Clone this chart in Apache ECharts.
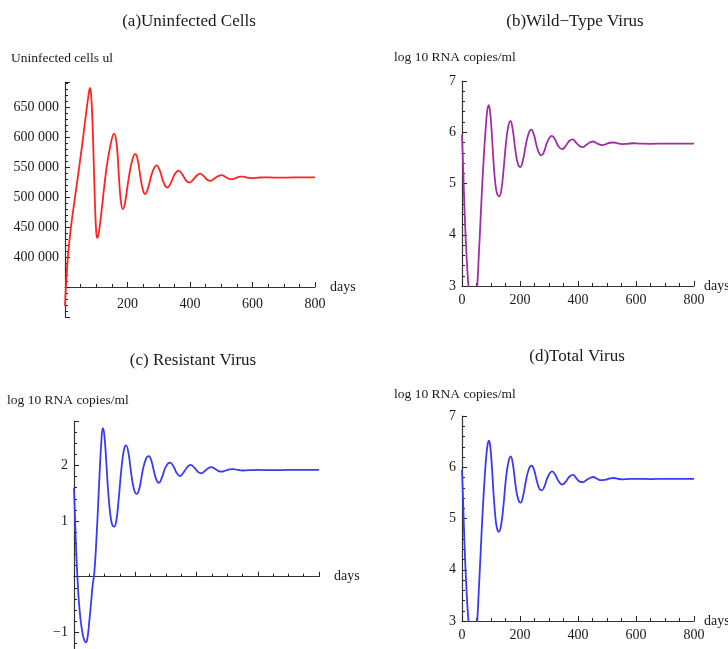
<!DOCTYPE html>
<html>
<head>
<meta charset="utf-8">
<script src="https://cdn.jsdelivr.net/npm/echarts@6/dist/echarts.min.js"></script>
<style>
  html, body { margin: 0; padding: 0; background: #fff; }
  #main { width: 728px; height: 649px; }
</style>
</head>
<body>
<div id="main"></div>
<script>
// panel titles and axis names
var panelTitles = ['(a)Uninfected Cells', '(b)Wild\u2212Type Virus', '(c) Resistant Virus', '(d)Total Virus'];
var yNames = ['Uninfected cells ul', 'log 10 RNA copies/ml', 'log 10 RNA copies/ml', 'log 10 RNA copies/ml'];
var xName = 'days';

// (a) uninfected cells, [day, cells]
var uninfected = [
  [0, 318000], [4, 360000], [10, 405000], [18, 445000], [28, 485000], [38, 522000], [48, 560000],
  [58, 600000], [67, 638000], [74, 665000], [80, 682000], [84, 668000], [89, 610000], [94, 520000],
  [99, 450000], [103, 432000], [108, 440000], [118, 482000], [132, 545000], [146, 588000], [157, 606000],
  [165, 590000], [173, 530000], [179, 492000], [185, 480000], [192, 490000], [204, 532000], [216, 563000],
  [225, 572000], [233, 561000], [243, 528000], [250, 511000], [256, 505000], [265, 514000], [280, 542000],
  [293, 553000], [303, 545000], [315, 525000], [327, 516000], [340, 525000], [352, 539000], [364, 544000],
  [375, 538000], [387, 528000], [398, 524000], [410, 529000], [422, 536000], [432, 539000], [444, 535000],
  [455, 529000], [466, 527000], [478, 531000], [490, 535000], [501, 536500], [513, 534000], [525, 530500],
  [536, 530000], [548, 532000], [560, 534000], [570, 534000], [582, 532500], [600, 531500], [620, 532500],
  [640, 533000], [670, 532500], [710, 532500], [760, 533000], [800, 533000]
];

// (b) wild-type virus, [day, log10 copies/ml]
var wildType = [
  [0, 5.95], [4, 5.3], [8, 4.6], [13, 3.9], [18, 3.35], [23, 2.95], [30, 2.5], [38, 2.3], [45, 2.5],
  [52, 2.95], [58, 3.6], [64, 4.3], [70, 5.0], [76, 5.6], [82, 6.1], [87, 6.42], [92, 6.53], [97, 6.4],
  [103, 5.95], [109, 5.4], [115, 5.0], [121, 4.8], [128, 4.75], [135, 4.85], [143, 5.25], [151, 5.75],
  [159, 6.1], [167, 6.22], [175, 6.05], [184, 5.65], [193, 5.38], [201, 5.32], [210, 5.45], [220, 5.75],
  [230, 5.98], [239, 6.05], [248, 5.95], [258, 5.72], [267, 5.58], [274, 5.55], [283, 5.62], [295, 5.82],
  [310, 5.93], [320, 5.87], [333, 5.72], [345, 5.67], [357, 5.73], [370, 5.83], [382, 5.86], [393, 5.8],
  [405, 5.73], [416, 5.71], [428, 5.75], [440, 5.8], [452, 5.82], [463, 5.79], [475, 5.76], [485, 5.75],
  [497, 5.77], [510, 5.795], [523, 5.8], [537, 5.785], [552, 5.77], [570, 5.775], [590, 5.785], [610, 5.78],
  [650, 5.775], [700, 5.78], [750, 5.78], [800, 5.78]
];

// (c) resistant virus, [day, log10 copies/ml]
var resistant = [
  [0, 1.6], [4, 0.95], [8, 0.35], [11, 0.0], [16, -0.45], [22, -0.8], [29, -1.05], [35, -1.16], [39, -1.18],
  [44, -1.1], [50, -0.8], [56, -0.45], [61, -0.15], [66, 0.05], [72, 0.55], [78, 1.2], [84, 1.9], [89, 2.4],
  [94, 2.67], [99, 2.55], [105, 2.1], [112, 1.5], [119, 1.1], [125, 0.93], [131, 0.9], [138, 1.0], [146, 1.4],
  [155, 1.95], [163, 2.28], [170, 2.36], [178, 2.22], [187, 1.85], [196, 1.57], [205, 1.49], [214, 1.6],
  [224, 1.9], [235, 2.12], [244, 2.17], [253, 2.08], [263, 1.85], [271, 1.72], [277, 1.69], [287, 1.78],
  [300, 1.98], [314, 2.05], [325, 1.98], [336, 1.86], [346, 1.81], [357, 1.87], [370, 1.97], [381, 2.01],
  [393, 1.96], [404, 1.89], [415, 1.86], [427, 1.9], [438, 1.95], [449, 1.97], [460, 1.94], [472, 1.9],
  [483, 1.89], [495, 1.91], [508, 1.93], [520, 1.935], [535, 1.92], [550, 1.91], [570, 1.915], [600, 1.92],
  [650, 1.915], [700, 1.92], [800, 1.92]
];

// (d) total virus, [day, log10 copies/ml]
var totalVirus = [
  [0, 5.95], [4, 5.3], [8, 4.6], [13, 3.9], [18, 3.35], [23, 2.95], [30, 2.5], [38, 2.3], [45, 2.5],
  [52, 2.95], [58, 3.6], [64, 4.3], [70, 5.0], [76, 5.6], [82, 6.1], [88, 6.43], [93, 6.52], [98, 6.38],
  [104, 5.93], [110, 5.38], [116, 4.98], [121, 4.8], [127, 4.74], [134, 4.84], [143, 5.25], [151, 5.75],
  [160, 6.1], [168, 6.21], [176, 6.04], [185, 5.63], [194, 5.37], [202, 5.31], [211, 5.45], [221, 5.75],
  [231, 5.97], [240, 6.03], [249, 5.94], [259, 5.71], [268, 5.57], [275, 5.55], [284, 5.62], [296, 5.81],
  [311, 5.92], [321, 5.86], [334, 5.72], [346, 5.66], [358, 5.72], [371, 5.82], [383, 5.85], [394, 5.79],
  [406, 5.72], [417, 5.71], [429, 5.75], [441, 5.79], [453, 5.81], [464, 5.78], [476, 5.75], [486, 5.75],
  [498, 5.76], [511, 5.785], [524, 5.79], [538, 5.775], [553, 5.765], [571, 5.77], [591, 5.775], [611, 5.775],
  [650, 5.77], [700, 5.775], [750, 5.775], [800, 5.775]
];

var xTicks = { min: 0, max: 800, interval: 200 };

var serif = '"Liberation Serif", "DejaVu Serif", serif';
var txt = '#1a1a1a';

var grids = [
  { left: 65, top: 82, width: 250, height: 235, outerBoundsMode: 'none' },
  { left: 462, top: 81, width: 232, height: 205, outerBoundsMode: 'none' },
  { left: 74, top: 421, width: 245, height: 228, outerBoundsMode: 'none' },
  { left: 462, top: 416, width: 232, height: 205, outerBoundsMode: 'none' }
];

function xAxisFor(i, showZero, offset, margin, gap) {
  return {
    type: 'value', gridIndex: i, min: xTicks.min, max: xTicks.max, interval: xTicks.interval,
    offset: offset || 0,
    name: xName, nameLocation: 'end', nameGap: gap || 15,
    nameTextStyle: { fontFamily: serif, fontSize: 14, color: txt, verticalAlign: 'middle', padding: [4, 0, 0, 0] },
    axisLine: { onZero: true, lineStyle: { color: '#333', width: 1.2 } },
    axisTick: { inside: true, length: 5, lineStyle: { color: '#222' } },
    minorTick: { show: true, splitNumber: 4, length: 3, lineStyle: { color: '#222' } },
    splitLine: { show: false },
    axisLabel: {
      fontFamily: serif, fontSize: 14, color: txt, margin: margin || 7,
      formatter: function (v) { return (v === 0 && !showZero) ? '' : String(v); }
    }
  };
}

function yAxisFor(i, opts) {
  var a = {
    type: 'value', gridIndex: i, min: opts.min, max: opts.max,
    axisLine: { show: true, onZero: true, lineStyle: { color: '#333', width: 1.2 } },
    axisTick: { show: true, inside: true, length: 5, lineStyle: { color: '#222' } },
    minorTick: { show: true, splitNumber: 5, length: 3, lineStyle: { color: '#222' } },
    splitLine: { show: false },
    axisLabel: { fontFamily: serif, fontSize: 14, color: txt, margin: 6, formatter: opts.formatter }
  };
  if (opts.interval) a.interval = opts.interval;
  if (opts.splitNumber) a.splitNumber = opts.splitNumber;
  return a;
}

function titleAt(text, x, y, size, align) {
  return {
    text: text, left: x, top: y, padding: 0,
    textAlign: align, textVerticalAlign: 'middle',
    textStyle: { fontFamily: serif, fontSize: size, fontWeight: 'normal', color: txt }
  };
}

function line(i, data, color) {
  return {
    type: 'line', xAxisIndex: i, yAxisIndex: i, data: data,
    showSymbol: false, smooth: 0.45, clip: true,
    lineStyle: { color: color, width: 1.8 }
  };
}

var chart = echarts.init(document.getElementById('main'));
chart.setOption({
  animation: false,
  backgroundColor: '#fff',
  title: [
    titleAt(panelTitles[0], 189, 22, 17, 'center'),
    titleAt(panelTitles[1], 575, 22, 17, 'center'),
    titleAt(panelTitles[2], 193, 361, 17, 'center'),
    titleAt(panelTitles[3], 577, 357, 17, 'center'),
    titleAt(yNames[0], 11, 58, 13.5, 'left'),
    titleAt(yNames[1], 394, 57, 13.5, 'left'),
    titleAt(yNames[2], 7, 400, 13.5, 'left'),
    titleAt(yNames[3], 394, 394, 13.5, 'left')
  ],
  grid: grids,
  xAxis: [
    xAxisFor(0, false, -30, 10, 15),
    xAxisFor(1, true, 0, 7, 10),
    xAxisFor(2, false, 0, 10, 15),
    xAxisFor(3, true, 0, 7, 10)
  ],
  yAxis: [
    yAxisFor(0, {
      min: 300000, max: 692000, interval: 50000,
      formatter: function (v) {
        if (v < 400000 || v % 50000 !== 0) return '';
        var s = String(v);
        return s.slice(0, s.length - 3) + ' ' + s.slice(-3);
      }
    }),
    yAxisFor(1, { min: 3, max: 7, interval: 1, formatter: function (v) { return String(v); } }),
    yAxisFor(2, {
      min: -1.3, max: 2.8, splitNumber: 4,
      formatter: function (v) {
        if (v === 0 || Math.abs(v - Math.round(v)) > 1e-6) return '';
        return v < 0 ? '\u2212' + Math.abs(v) : String(v);
      }
    }),
    yAxisFor(3, { min: 3, max: 7, interval: 1, formatter: function (v) { return String(v); } })
  ],
  series: [
    line(0, uninfected, '#ff2424'),
    line(1, wildType, '#a22ea6'),
    line(2, resistant, '#3a3af5'),
    line(3, totalVirus, '#3a3af5')
  ]
});
</script>
</body>
</html>
